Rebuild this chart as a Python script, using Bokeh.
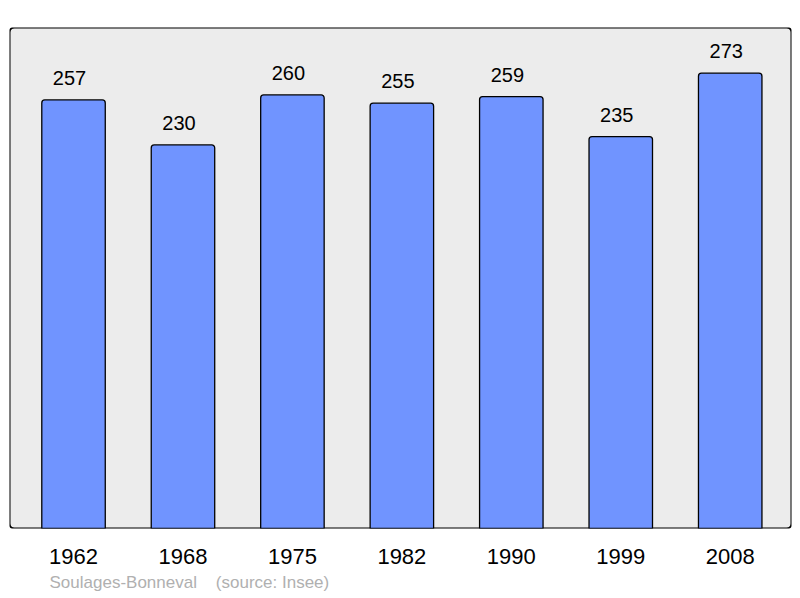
from bokeh.plotting import figure
from bokeh.models import ColumnDataSource, FixedTicker, BoxAnnotation, Title, Range1d
from bokeh.core.properties import value
from bokeh.embed import file_html
from bokeh.resources import INLINE

years = ["1962", "1968", "1975", "1982", "1990", "1999", "2008"]
population = [257, 230, 260, 255, 259, 235, 273]
footer_name = "Soulages-Bonneval"
footer_source = "(source: Insee)"

xs = list(range(len(years)))
src = ColumnDataSource(dict(x=xs, top=population, label=[str(v) for v in population]))

FONT = "Liberation Sans"

p = figure(width=800, height=598, output_backend="svg", toolbar_location=None,
           x_range=Range1d(-0.585, 6.56), y_range=Range1d(0, 300.4),
           min_border_left=9, min_border_right=9, min_border_top=27, min_border_bottom=70)
p.background_fill_color = None
p.border_fill_color = "white"
p.outline_line_color = None
p.grid.visible = False
p.yaxis.visible = False

frame_box = BoxAnnotation(fill_color="#ececec", fill_alpha=1.0, line_color="black",
                          line_alpha=1.0, line_width=2, level="underlay", border_radius=5)
p.add_layout(frame_box)

p.vbar(x="x", top="top", width=0.58, bottom=0, source=src, fill_color="#7094ff",
       line_color="black", line_width=1.3,
       border_radius=dict(top_left=3, top_right=3, bottom_left=0, bottom_right=0))

p.text(x="x", y="top", text="label", source=src, x_offset=-4, y_offset=-15,
       text_align="center", text_baseline="bottom",
       text_font=value(FONT), text_font_size="20px", text_color="black")

ax = p.xaxis[0]
ax.ticker = FixedTicker(ticks=xs)
ax.major_label_overrides = {i: y for i, y in zip(xs, years)}
ax.axis_line_color = None
ax.major_tick_line_color = None
ax.minor_tick_line_color = None
ax.major_label_standoff = 14
ax.major_label_text_font = FONT
ax.major_label_text_font_size = "22px"
ax.major_label_text_color = "black"

t = Title(text=footer_name + "\u00a0\u00a0\u00a0\u00a0" + footer_source, align="left",
          offset=40, text_font=FONT, text_font_size="17px", text_font_style="normal",
          text_color="#b0b0b0", standoff=9)
p.add_layout(t, "below")

open("out.html", "w").write(file_html(p, INLINE))
